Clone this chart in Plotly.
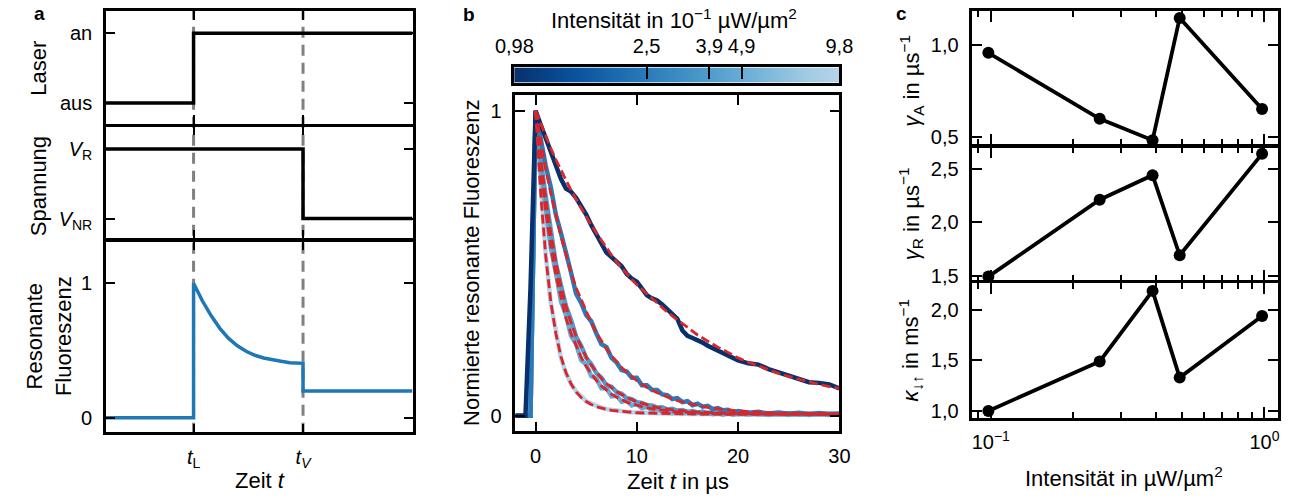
import math
import plotly.graph_objects as go

W, H = 1300, 499
def px(x): return x / W
def py(y): return 1 - y / H

FONT = "Liberation Sans, Arial, sans-serif"
FS = 20      # tick labels
FT = 22      # axis titles
LW = 2.5     # axis line width
HL = LW / 2
YSO = 7      # y tick label standoff
XSO = 5      # x tick label standoff

# ---------------- Panel a (schematic) ----------------
t_L, t_V = 0.0, 1.25
laser_t = [-1.0, 0.0, 0.0, 2.5]
laser_v = [0, 0, 1, 1]
volt_t = [-1.0, 1.25, 1.25, 2.5]
volt_v = [1, 1, 0, 0]
fluor_t = [-1.0, 0.0, 0.0, 0.1, 0.2, 0.3, 0.4, 0.5, 0.6, 0.7, 0.8, 0.9, 1.0, 1.1, 1.25, 1.25, 2.5]
fluor_v = [0.0, 0.0, 1.0, 0.87, 0.76, 0.665, 0.59, 0.535, 0.495, 0.465, 0.445, 0.43, 0.42, 0.41, 0.405, 0.2, 0.2]

# ---------------- Panel b (decays) ----------------
intensities = [0.98, 2.5, 3.9, 4.9, 9.8]   # 10^-1 uW/um^2
cbar_ticks = [0.98, 2.5, 3.9, 4.9, 9.8]
cbar_labels = ["0,98", "2,5", "3,9", "4,9", "9,8"]

t_data = [-2, -1.5, -1, -0.5, 0, 0.5, 1, 1.5, 2, 2.5, 3, 3.5, 4, 4.5, 5, 5.5, 6, 6.5, 7, 7.5,
          8, 8.5, 9, 9.5, 10, 10.5, 11, 11.5, 12, 12.5, 13, 13.5, 14, 14.5, 15, 15.5, 16, 16.5,
          17, 17.5, 18, 18.5, 19, 19.5, 20, 21, 22, 23, 24, 25, 26, 27, 28, 29, 30]
data_098 = [0, 0, 0, 0.42, 1.0, 0.955, 0.91, 0.866, 0.82, 0.777, 0.745, 0.735, 0.715, 0.69, 0.66, 0.625,
            0.595, 0.565, 0.535, 0.52, 0.505, 0.49, 0.465, 0.45, 0.44, 0.42, 0.395, 0.385, 0.378, 0.365,
            0.35, 0.335, 0.318, 0.28, 0.262, 0.255, 0.248, 0.24, 0.23, 0.222, 0.215, 0.207, 0.2, 0.19,
            0.182, 0.172, 0.168, 0.153, 0.142, 0.13, 0.12, 0.11, 0.108, 0.103, 0.09]
data_25 = [0, 0, 0, 0, 1.0, 0.9, 0.82, 0.75, 0.66, 0.6, 0.54, 0.47, 0.4, 0.37, 0.33, 0.31, 0.27, 0.235,
           0.225, 0.19, 0.175, 0.15, 0.145, 0.125, 0.125, 0.1, 0.1, 0.085, 0.085, 0.07, 0.068, 0.055,
           0.058, 0.045, 0.048, 0.035, 0.04, 0.03, 0.033, 0.022, 0.025, 0.018, 0.02, 0.012, 0.016,
           0.01, 0.013, 0.008, 0.011, 0.007, 0.01, 0.006, 0.009, 0.006, 0.008]
data_39 = [0, 0, 0, 0, 1.0, 0.84, 0.72, 0.6, 0.5, 0.43, 0.36, 0.315, 0.26, 0.23, 0.19, 0.17, 0.14, 0.125,
           0.1, 0.095, 0.078, 0.072, 0.058, 0.055, 0.045, 0.042, 0.035, 0.034, 0.027, 0.028, 0.021,
           0.023, 0.017, 0.019, 0.013, 0.016, 0.011, 0.014, 0.009, 0.012, 0.008, 0.011, 0.007, 0.01,
           0.006, 0.009, 0.005, 0.008, 0.005, 0.008, 0.004, 0.007, 0.005, 0.007, 0.005]
data_49 = [0, 0, 0, 0, 1.0, 0.8, 0.68, 0.55, 0.47, 0.375, 0.33, 0.262, 0.235, 0.182, 0.168, 0.13, 0.122,
           0.09, 0.09, 0.064, 0.066, 0.046, 0.05, 0.034, 0.039, 0.025, 0.03, 0.018, 0.024, 0.014,
           0.02, 0.011, 0.016, 0.009, 0.013, 0.007, 0.011, 0.006, 0.01, 0.005, 0.009, 0.004, 0.008,
           0.004, 0.007, 0.004, 0.007, 0.003, 0.006, 0.003, 0.006, 0.003, 0.006, 0.003, 0.005]
data_98 = [0, 0, 0, 0, 1.0, 0.74, 0.53, 0.37, 0.27, 0.19, 0.14, 0.105, 0.08, 0.062, 0.048, 0.04, 0.032,
           0.027, 0.022, 0.019, 0.017, 0.015, 0.013, 0.012, 0.011, 0.01, 0.009, 0.009, 0.008, 0.008,
           0.007, 0.007, 0.007, 0.006, 0.006, 0.006, 0.006, 0.006, 0.005, 0.005, 0.005, 0.005, 0.005,
           0.005, 0.005, 0.005, 0.005, 0.005, 0.005, 0.005, 0.005, 0.005, 0.005, 0.005, 0.005]

t_fit = [0, 0.5, 1, 1.5, 2, 2.5, 3, 3.5, 4, 4.5, 5, 5.5, 6, 6.5, 7, 7.5, 8, 8.5, 9, 9.5, 10,
         11, 12, 13, 14, 15, 16, 17, 18, 19, 20, 21, 22, 23, 24, 25, 26, 27, 28, 29, 30]
fit_098 = [1.0, 0.957, 0.915, 0.877, 0.84, 0.805, 0.77, 0.74, 0.71, 0.68, 0.65, 0.625, 0.6, 0.575, 0.55,
           0.527, 0.505, 0.485, 0.465, 0.447, 0.43, 0.4, 0.37, 0.34, 0.315, 0.29, 0.265, 0.245, 0.225,
           0.208, 0.19, 0.176, 0.163, 0.15, 0.139, 0.129, 0.12, 0.111, 0.103, 0.096, 0.09]
fit_25 = [1.0, 0.9, 0.81, 0.73, 0.655, 0.59, 0.53, 0.47, 0.42, 0.38, 0.34, 0.305, 0.272, 0.245, 0.22,
          0.197, 0.177, 0.158, 0.142, 0.128, 0.115, 0.093, 0.076, 0.062, 0.05, 0.041, 0.034, 0.028,
          0.023, 0.019, 0.016, 0.014, 0.012, 0.01, 0.009, 0.009, 0.008, 0.007, 0.007, 0.006, 0.006]
fit_39 = [1.0, 0.845, 0.715, 0.6, 0.505, 0.425, 0.36, 0.305, 0.262, 0.225, 0.193, 0.166, 0.143, 0.123,
          0.106, 0.092, 0.08, 0.07, 0.061, 0.053, 0.046, 0.036, 0.028, 0.022, 0.018, 0.015, 0.012,
          0.011, 0.009, 0.008, 0.008, 0.007, 0.007, 0.006, 0.006, 0.006, 0.006, 0.006, 0.006, 0.006, 0.006]
fit_49 = [1.0, 0.815, 0.67, 0.555, 0.46, 0.385, 0.32, 0.27, 0.228, 0.192, 0.162, 0.137, 0.116, 0.098,
          0.084, 0.071, 0.061, 0.052, 0.045, 0.039, 0.034, 0.026, 0.02, 0.016, 0.013, 0.011, 0.009,
          0.008, 0.007, 0.006, 0.006, 0.005, 0.005, 0.005, 0.005, 0.005, 0.005, 0.005, 0.005, 0.005, 0.005]
fit_98 = [1.0, 0.73, 0.525, 0.375, 0.27, 0.195, 0.142, 0.105, 0.078, 0.06, 0.047, 0.037, 0.03, 0.025,
          0.021, 0.018, 0.016, 0.014, 0.012, 0.011, 0.01, 0.009, 0.008, 0.007, 0.007, 0.006, 0.006,
          0.006, 0.006, 0.005, 0.005, 0.005, 0.005, 0.005, 0.005, 0.005, 0.005, 0.005, 0.005, 0.005, 0.005]

data_series = [data_098, data_25, data_39, data_49, data_98]
fit_series = [fit_098, fit_25, fit_39, fit_49, fit_98]

# ---------------- Panel c (parameters) ----------------
intensity_c = [0.098, 0.25, 0.39, 0.49, 0.98]   # uW/um^2
gamma_A = [0.958, 0.60, 0.484, 1.147, 0.653]
gamma_R = [1.49, 2.21, 2.44, 1.69, 2.64]
kappa = [1.00, 1.49, 2.19, 1.33, 1.94]

# ---------------- colours (matplotlib Blues, truncated 1.0 -> 0.3) ----------------
blues_stops = [(0.0, (8, 48, 107)), (0.1786, (8, 81, 156)), (0.357, (33, 113, 181)),
               (0.536, (66, 146, 198)), (0.714, (107, 174, 214)), (0.893, (158, 202, 225)),
               (1.0, (182, 212, 233))]
def cmap(f):
    f = min(max(f, 0), 1)
    for (a, ca), (b, cb) in zip(blues_stops[:-1], blues_stops[1:]):
        if a <= f <= b:
            u = (f - a) / (b - a)
            c = [round(ca[i] + u * (cb[i] - ca[i])) for i in range(3)]
            return "rgb(%d,%d,%d)" % tuple(c)
    return "rgb(182,212,233)"
lo, hi = math.log10(cbar_ticks[0]), math.log10(cbar_ticks[-1])
def frac(v): return (math.log10(v) - lo) / (hi - lo)
colorscale = [[a, "rgb(%d,%d,%d)" % c] for a, c in blues_stops]

RED = "#d9262b"
GREY = "#808080"

fig = go.Figure()

# panel a traces
fig.add_trace(go.Scatter(x=laser_t, y=laser_v, mode="lines", line=dict(color="black", width=3.5),
                         xaxis="x3", yaxis="y3", showlegend=False))
fig.add_trace(go.Scatter(x=volt_t, y=volt_v, mode="lines", line=dict(color="black", width=3.5),
                         xaxis="x2", yaxis="y2", showlegend=False))
fig.add_trace(go.Scatter(x=fluor_t, y=fluor_v, mode="lines", line=dict(color="#1f77b4", width=3.5),
                         xaxis="x", yaxis="y", showlegend=False))

# panel b traces
for I, d in reversed(list(zip(intensities, data_series))):
    fig.add_trace(go.Scatter(x=t_data, y=d, mode="lines", line=dict(color=cmap(frac(I)), width=4.5),
                             xaxis="x4", yaxis="y4", showlegend=False))
for f in fit_series:
    fig.add_trace(go.Scatter(x=t_fit, y=f, mode="lines", line=dict(color=RED, width=2.8, dash="9px,4px"),
                             xaxis="x4", yaxis="y4", showlegend=False))

# colour bar as heatmap
n = 300
cb_x = [lo + (hi - lo) * i / (n - 1) for i in range(n)]
cb_z = [[(v - lo) / (hi - lo) for v in cb_x]]
fig.add_trace(go.Heatmap(x=cb_x, y=[0], z=cb_z, colorscale=colorscale, zmin=0, zmax=1,
                         showscale=False, xaxis="x5", yaxis="y5", hoverinfo="skip"))

# panel c traces
for vals, a in [(gamma_A, "6"), (gamma_R, "7"), (kappa, "8")]:
    fig.add_trace(go.Scatter(x=intensity_c, y=vals, mode="lines+markers",
                             line=dict(color="black", width=3.8), marker=dict(color="black", size=12),
                             xaxis="x" + a, yaxis="y" + a, showlegend=False, cliponaxis=False))

base = dict(showline=True, linecolor="black", linewidth=LW, mirror="ticks", ticks="inside",
            tickwidth=2, tickcolor="black", ticklen=9, showgrid=False, zeroline=False,
            tickfont=dict(family=FONT, size=FS, color="black"))

def ax(**kw):
    d = dict(base); d.update(kw); return d

xa_dom = [px(88 + HL), px(405 - HL)]
layout = dict(
    width=W, height=H, margin=dict(l=0, r=0, t=0, b=0),
    paper_bgcolor="white", plot_bgcolor="rgba(0,0,0,0)",
    font=dict(family=FONT, size=FS, color="black"),
    # panel a
    xaxis=ax(domain=xa_dom, range=[-1, 2.5], anchor="y", tickvals=[t_L, t_V],
             ticktext=["<i>t</i><sub>L</sub>", "<i>t</i><sub><i>V</i></sub>"], ticklabelstandoff=XSO),
    yaxis=ax(domain=[py(439 - HL), py(243 + HL)], range=[-0.109, 1.312], anchor="x", tickvals=[0, 1],
             ticktext=["0", "1"], ticklabelstandoff=YSO),
    xaxis2=ax(domain=xa_dom, range=[-1, 2.5], anchor="y2", tickvals=[t_L, t_V], showticklabels=False),
    yaxis2=ax(domain=[py(243 - HL), py(127 + HL)], range=[-0.292, 1.319], anchor="x2", tickvals=[0, 1],
              ticktext=["<i>V</i><sub>NR</sub>", "<i>V</i><sub>R</sub>"], ticklabelstandoff=YSO),
    xaxis3=ax(domain=xa_dom, range=[-1, 2.5], anchor="y3", tickvals=[t_L, t_V], showticklabels=False),
    yaxis3=ax(domain=[py(127 - HL), py(10 + HL)], range=[-0.306, 1.319], anchor="x3", tickvals=[0, 1],
              ticktext=["aus", "an"], ticklabelstandoff=YSO),
    # panel b
    xaxis4=ax(domain=[px(508 + HL), px(843 - HL)], range=[-2, 30], anchor="y4", tickvals=[0, 10, 20, 30],
              ticktext=["0", "10", "20", "30"], ticklen=10, ticklabelstandoff=XSO),
    yaxis4=ax(domain=[py(438 - HL), py(95 + HL)], range=[-0.0514, 1.0514], anchor="x4", tickvals=[0, 1],
              ticktext=["0", "1"], ticklen=10, ticklabelstandoff=YSO),
    # colour bar
    xaxis5=ax(domain=[px(507 + HL), px(843 - HL)], range=[lo, hi], anchor="y5", side="top",
              tickvals=[math.log10(v) for v in cbar_ticks], ticktext=cbar_labels, ticklen=12,
              mirror=True, tickangle=0, ticklabelstandoff=4),
    yaxis5=ax(domain=[py(85 - HL), py(67 + HL)], range=[-0.5, 0.5], anchor="x5", showticklabels=False,
              ticks="", mirror=True),
)
c_dom = [px(977 + HL), px(1293 - HL)]
c_range = [-1.067, 0.0492]
minor = dict(ticks="inside", ticklen=6, tickwidth=1.5, tickcolor="black",
             tickvals=[0.09, 0.2, 0.3, 0.4, 0.5, 0.6, 0.7, 0.8, 0.9], showgrid=False)
for i, (dom, rng, tv, tt) in enumerate([
        ([py(148 - HL), py(10 + HL)], [0.458, 1.184], [0.5, 1.0], ["0,5", "1,0"]),
        ([py(285 - HL), py(148 + HL)], [1.455, 2.70], [1.5, 2.0, 2.5], ["1,5", "2,0", "2,5"]),
        ([py(424 - HL), py(285 + HL)], [0.933, 2.27], [1.0, 1.5, 2.0], ["1,0", "1,5", "2,0"])]):
    k = str(6 + i)
    bottom = (i == 2)
    layout["xaxis" + k] = ax(domain=c_dom, type="log", range=c_range, anchor="y" + k,
                             tickvals=[0.1, 1.0], ticktext=["10<sup>−1</sup>", "10<sup>0</sup>"],
                             showticklabels=bottom, ticklen=11, minor=minor, ticklabelstandoff=XSO)
    layout["yaxis" + k] = ax(domain=dom, range=rng, anchor="x" + k, tickvals=tv, ticktext=tt, ticklen=10,
                             ticklabelstandoff=YSO)

fig.update_layout(**layout)

# dashed guide lines in panel a
for tv in [t_L, t_V]:
    fig.add_shape(type="line", xref="x", yref="paper", x0=tv, x1=tv, y0=py(439), y1=py(10),
                  line=dict(color=GREY, width=3, dash="11px,7px"), layer="below")

def ann(text, x, y, angle=0, size=FT, **kw):
    fig.add_annotation(text=text, x=px(x), y=py(y), xref="paper", yref="paper", showarrow=False,
                       textangle=angle, font=dict(family=FONT, size=size, color="black"),
                       xanchor="center", yanchor="middle", **kw)

ann("<b>a</b>", 21, 14, size=19)
ann("<b>b</b>", 462, 15, size=19)
ann("<b>c</b>", 905, 14, size=19)
ann("Laser", 20, 69, angle=-90)
ann("Spannung", 20, 188, angle=-90)
ann("Resonante<br>Fluoreszenz", 31, 340, angle=-90)
ann("Zeit <i>t</i>", 247, 486)
ann("Normierte resonante Fluoreszenz", 465, 266, angle=-90)
ann("Zeit <i>t</i> in µs", 676, 487)
ann("Intensität in 10<sup>−1</sup> µW/µm<sup>2</sup>", 672, 19)
ann("<i>γ</i><sub>A</sub> in µs<sup>−1</sup>", 915, 82, angle=-90)
ann("<i>γ</i><sub>R</sub> in µs<sup>−1</sup>", 915, 216, angle=-90)
ann("<i>κ</i><sub>↓↑</sub> in ms<sup>−1</sup>", 915, 354, angle=-90)
ann("Intensität in µW/µm<sup>2</sup>", 1134, 483)

fig.write_html("out.html")
